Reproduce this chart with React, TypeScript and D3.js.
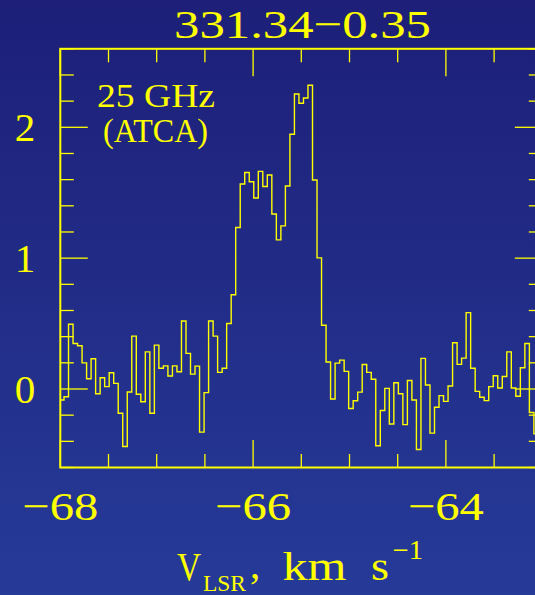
import React from 'react';
import * as d3 from 'd3';

const titleText = '331.34\u22120.35';
const xTickValues = [-68, -66, -64];
const yTickValues = [0, 1, 2];
const channelStart = -68.0085; // km/s, left edge of first channel
const channelWidth = 0.04687; // km/s
const fluxDensity = [
  -0.084, -0.059, 0.495, 0.348, 0.33, 0.2, 0.078, 0.231, -0.036, 0.086,
  0.018, 0.124, 0.043, -0.185, -0.439, -0.023, 0.404, -0.04, -0.097, 0.284,
  -0.185, 0.335, 0.158, 0.177, 0.099, 0.177, 0.132, 0.52, 0.272, 0.114,
  0.175, -0.33, -0.028, 0.52, 0.404, 0.127, 0.158, 0.5, 0.72, 1.234,
  1.567, 1.655, 1.584, 1.46, 1.663, 1.548, 1.635, 1.338, 1.14, 1.247,
  1.551, 1.947, 2.254, 2.184, 2.224, 2.321, 1.597, 1.002, 0.487, 0.206,
  -0.076, 0.198, 0.221, 0.135, -0.149, -0.09, -0.024, 0.187, 0.127, 0.075,
  -0.434, -0.164, 0.005, -0.267, 0.048, -0.036, -0.272, 0.065, -0.084, -0.462,
  0.234, 0.03, -0.337, -0.139, -0.051, -0.095, 0.023, 0.354, 0.188, 0.236,
  0.584, 0.158, -0.018, -0.063, -0.089, 0.018, 0.101, 0.008, 0.095, 0.284,
  0.008, -0.055, 0.162, 0.348, -0.18, -0.343,
];

const YEL = '#ffff00';
const FONT = '"Liberation Serif", "DejaVu Serif", serif';

export default function App() {
  const W = 535;
  const H = 595;
  const x = d3.scaleLinear().domain([-68, -63]).range([60.3, 542.3]);
  const y = d3.scaleLinear().domain([-0.6, 2.6]).range([467.5, 48.8]);
  const [x0, x1] = x.range();
  const [yb, yt] = y.range();

  const pts: [number, number][] = fluxDensity.map((v, i) => [channelStart + i * channelWidth, v]);
  pts.push([channelStart + fluxDensity.length * channelWidth, fluxDensity[fluxDensity.length - 1]]);
  const line = d3
    .line<[number, number]>()
    .x((d) => x(d[0]))
    .y((d) => y(d[1]))
    .curve(d3.curveStepAfter);

  const xMinor = d3.range(0, 11).map((i) => -68 + i * 0.5);
  const yMinor = d3.range(0, 17).map((i) => -0.6 + i * 0.2);
  const isXMajor = (v: number) => Math.abs(v / 2 - Math.round(v / 2)) < 1e-6;
  const isYMajor = (v: number) => Math.abs(v - Math.round(v)) < 1e-6;
  const fmt = (v: number) => String(v).replace('-', '\u2212');

  const minorLen = 13.5;
  const majorLen = 27.5;

  return (
    <svg
      width={W}
      height={H}
      style={{ position: 'absolute', left: 0, top: 0, display: 'block' }}
      fontFamily={FONT}
    >
      <defs>
        <linearGradient id="bg" x1="0" y1="0" x2="0" y2="1">
          <stop offset="0" stopColor="#1d1f78" />
          <stop offset="1" stopColor="#263a98" />
        </linearGradient>
        <clipPath id="plotclip">
          <rect x={x0} y={yt} width={x1 - x0} height={yb - yt} />
        </clipPath>
      </defs>
      <rect x={0} y={0} width={W} height={H} fill="url(#bg)" />

      {/* spectrum */}
      <path
        d={line(pts) || ''}
        fill="none"
        stroke={YEL}
        strokeWidth={1.4}
        clipPath="url(#plotclip)"
      />

      {/* ticks */}
      <g stroke={YEL} strokeWidth={1.3}>
        {xMinor.map((v) => {
          const L = isXMajor(v) ? majorLen : minorLen;
          return (
            <g key={'xt' + v}>
              <line x1={x(v)} x2={x(v)} y1={yb} y2={yb - L} />
              <line x1={x(v)} x2={x(v)} y1={yt} y2={yt + L} />
            </g>
          );
        })}
        {yMinor.map((v) => {
          const L = isYMajor(v) ? majorLen : minorLen;
          return (
            <g key={'yt' + v.toFixed(1)}>
              <line x1={x0} x2={x0 + L} y1={y(v)} y2={y(v)} />
              <line x1={x1} x2={x1 - L} y1={y(v)} y2={y(v)} />
            </g>
          );
        })}
      </g>

      {/* frame */}
      <rect x={x0} y={yt} width={x1 - x0} height={yb - yt} fill="none" stroke={YEL} strokeWidth={2} />

      {/* tick labels */}
      <g fill={YEL} fontSize={41}>
        {xTickValues.map((v) => (
          <text
            key={'xl' + v}
            x={x(v) - 38}
            y={519.5}
            textLength={76}
            lengthAdjust="spacingAndGlyphs"
          >
            {fmt(v)}
          </text>
        ))}
        {yTickValues.map((v) => (
          <text key={'yl' + v} x={25} y={y(v) + 14} textAnchor="middle">
            {fmt(v)}
          </text>
        ))}
      </g>

      {/* title */}
      <text
        x={174}
        y={38}
        fill={YEL}
        fontSize={41}
        textLength={257}
        lengthAdjust="spacingAndGlyphs"
      >
        {titleText}
      </text>

      {/* annotation */}
      <text x={97} y={107} fill={YEL} fontSize={33} textLength={118} lengthAdjust="spacingAndGlyphs">
        25 GHz
      </text>
      <text x={103} y={141.5} fill={YEL} fontSize={33} textLength={105} lengthAdjust="spacingAndGlyphs">
        (ATCA)
      </text>

      {/* x axis label */}
      <g fill={YEL}>
        <text x={177} y={579.5} fontSize={41} textLength={24} lengthAdjust="spacingAndGlyphs">V</text>
        <text x={203} y={590.5} fontSize={24} textLength={43} lengthAdjust="spacingAndGlyphs">LSR</text>
        <text x={250} y={578} fontSize={41}>,</text>
        <text x={282.5} y={579.5} fontSize={41} textLength={64} lengthAdjust="spacingAndGlyphs">km</text>
        <text x={371} y={579.5} fontSize={41} textLength={18} lengthAdjust="spacingAndGlyphs">s</text>
        <text x={392.5} y={559} fontSize={27} textLength={30.5} lengthAdjust="spacingAndGlyphs">{'\u22121'}</text>
      </g>
    </svg>
  );
}
